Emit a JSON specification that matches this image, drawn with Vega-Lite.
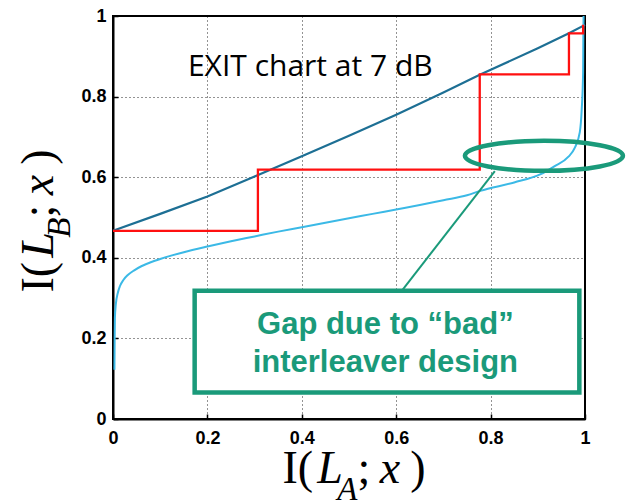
{
  "$schema": "https://vega.github.io/schema/vega-lite/v6.json",
  "width": 472,
  "height": 403,
  "autosize": {"type": "none"},
  "padding": {"left": 113, "top": 16, "right": 45, "bottom": 82},
  "background": "white",
  "config": {
    "view": {"stroke": "black", "strokeWidth": 2}
  },
  "datasets": {
    "upper": [
      {"x": 0.0, "y": 0.467},
      {"x": 0.1, "y": 0.509},
      {"x": 0.2, "y": 0.552},
      {"x": 0.3, "y": 0.602},
      {"x": 0.4, "y": 0.652},
      {"x": 0.5, "y": 0.703},
      {"x": 0.6, "y": 0.755},
      {"x": 0.7, "y": 0.81},
      {"x": 0.777, "y": 0.854},
      {"x": 0.9, "y": 0.92},
      {"x": 0.966, "y": 0.957},
      {"x": 1.0, "y": 0.978}
    ],
    "lower": [
      {"x": 0.003, "y": 0.122},
      {"x": 0.0035, "y": 0.2},
      {"x": 0.004, "y": 0.25},
      {"x": 0.006, "y": 0.285},
      {"x": 0.01, "y": 0.312},
      {"x": 0.0148, "y": 0.33},
      {"x": 0.022, "y": 0.345},
      {"x": 0.032, "y": 0.358},
      {"x": 0.045, "y": 0.369},
      {"x": 0.06, "y": 0.379},
      {"x": 0.08, "y": 0.389},
      {"x": 0.1, "y": 0.397},
      {"x": 0.125, "y": 0.406},
      {"x": 0.15, "y": 0.414},
      {"x": 0.2, "y": 0.428},
      {"x": 0.25, "y": 0.441},
      {"x": 0.3, "y": 0.453},
      {"x": 0.35, "y": 0.465},
      {"x": 0.4, "y": 0.476},
      {"x": 0.45, "y": 0.487},
      {"x": 0.5, "y": 0.498},
      {"x": 0.55, "y": 0.509},
      {"x": 0.6, "y": 0.52},
      {"x": 0.65, "y": 0.531},
      {"x": 0.7, "y": 0.543},
      {"x": 0.75, "y": 0.555},
      {"x": 0.778, "y": 0.566},
      {"x": 0.85, "y": 0.587},
      {"x": 0.905, "y": 0.607},
      {"x": 0.935, "y": 0.627},
      {"x": 0.965, "y": 0.651},
      {"x": 0.978, "y": 0.672},
      {"x": 0.989, "y": 0.712},
      {"x": 0.993, "y": 0.767},
      {"x": 0.996, "y": 0.86},
      {"x": 0.9965, "y": 0.95},
      {"x": 0.997, "y": 1.0}
    ],
    "stairs": [
      {"step": 0, "x": 0.0, "y": 0.467},
      {"step": 1, "x": 0.307, "y": 0.467},
      {"step": 2, "x": 0.307, "y": 0.619},
      {"step": 3, "x": 0.777, "y": 0.619},
      {"step": 4, "x": 0.777, "y": 0.855},
      {"step": 5, "x": 0.966, "y": 0.855},
      {"step": 6, "x": 0.966, "y": 0.957},
      {"step": 7, "x": 0.996, "y": 0.957},
      {"step": 8, "x": 0.996, "y": 0.978}
    ],
    "pointer": [
      {"x": 0.809, "y": 0.615},
      {"x": 0.613, "y": 0.32}
    ],
    "xtitle": [
      {"part": "I(", "x": 0.3915, "y": -0.1596, "kind": "upright"},
      {"part": "L", "x": 0.4597, "y": -0.1596, "kind": "italic"},
      {"part": "A", "x": 0.4964, "y": -0.201, "kind": "sub"},
      {"part": ";", "x": 0.5318, "y": -0.1596, "kind": "upright"},
      {"part": "x", "x": 0.5869, "y": -0.1596, "kind": "italic"},
      {"part": ")", "x": 0.6462, "y": -0.1596, "kind": "upright"}
    ],
    "ytitle": [
      {"part": "I(", "x": -0.1271, "y": 0.3519, "kind": "upright"},
      {"part": "L", "x": -0.1271, "y": 0.4318, "kind": "italic"},
      {"part": "B", "x": -0.0911, "y": 0.4747, "kind": "sub"},
      {"part": ";", "x": -0.1271, "y": 0.5161, "kind": "upright"},
      {"part": "x", "x": -0.1271, "y": 0.5806, "kind": "italic"},
      {"part": ")", "x": -0.1271, "y": 0.6501, "kind": "upright"}
    ]
  },
  "layer": [
    {
      "data": {"name": "upper"},
      "mark": {"type": "line", "color": "#1d6f94", "strokeWidth": 2.2},
      "encoding": {
        "x": {"field": "x", "type": "quantitative", "title": null,
              "scale": {"domain": [0, 1], "nice": false, "zero": false},
              "axis": {
                "values": [0, 0.2, 0.4, 0.6, 0.8, 1], "format": "~g",
                "domainColor": "black", "domainWidth": 2,
                "grid": true, "gridColor": "black", "gridDash": [1, 3], "gridWidth": 1, "gridOpacity": 0.85,
                "ticks": true, "tickSize": -5, "tickColor": "black", "tickWidth": 1.5,
                "labelFont": "Liberation Sans", "labelFontWeight": "bold", "labelFontSize": 18, "labelColor": "black",
                "labelFlush": false, "labelOverlap": false, "labelPadding": 15
              }},
        "y": {"field": "y", "type": "quantitative", "title": null,
              "scale": {"domain": [0, 1], "nice": false, "zero": false},
              "axis": {
                "values": [0, 0.2, 0.4, 0.6, 0.8, 1], "format": "~g",
                "domainColor": "black", "domainWidth": 2,
                "grid": true, "gridColor": "black", "gridDash": [1, 3], "gridWidth": 1, "gridOpacity": 0.85,
                "ticks": true, "tickSize": -5, "tickColor": "black", "tickWidth": 1.5,
                "labelFont": "Liberation Sans", "labelFontWeight": "bold", "labelFontSize": 18, "labelColor": "black",
                "labelFlush": false, "labelOverlap": false, "labelPadding": 12
              }}
      }
    },
    {
      "data": {"name": "lower"},
      "mark": {"type": "line", "color": "#3bb9e6", "strokeWidth": 2, "interpolate": "monotone"},
      "encoding": {
        "x": {"field": "x", "type": "quantitative", "title": null},
        "y": {"field": "y", "type": "quantitative", "title": null},
        "order": {"field": "y"}
      }
    },
    {
      "data": {"name": "stairs"},
      "mark": {"type": "line", "color": "#ff1010", "strokeWidth": 2.3},
      "encoding": {
        "x": {"field": "x", "type": "quantitative", "title": null},
        "y": {"field": "y", "type": "quantitative", "title": null},
        "order": {"field": "step"}
      }
    },
    {
      "data": {"name": "pointer"},
      "mark": {"type": "line", "color": "#1a9a7a", "strokeWidth": 2},
      "encoding": {
        "x": {"field": "x", "type": "quantitative", "title": null},
        "y": {"field": "y", "type": "quantitative", "title": null}
      }
    },
    {
      "data": {"values": [{}]},
      "mark": {
        "type": "point",
        "shape": "M -1 0 A 1 0.19 0 1 0 1 0 A 1 0.19 0 1 0 -1 0 Z",
        "size": 24964,
        "filled": false,
        "stroke": "#1a9a7a",
        "strokeWidth": 4.5,
        "opacity": 1
      },
      "encoding": {
        "x": {"datum": 0.913, "type": "quantitative"},
        "y": {"datum": 0.653, "type": "quantitative"}
      }
    },
    {
      "data": {"values": [{}]},
      "mark": {"type": "rect", "fill": "white", "stroke": "#1a9a7a", "strokeWidth": 4.5},
      "encoding": {
        "x": {"datum": 0.173, "type": "quantitative"},
        "x2": {"datum": 0.988},
        "y": {"datum": 0.066, "type": "quantitative"},
        "y2": {"datum": 0.318}
      }
    },
    {
      "data": {"values": [{}]},
      "mark": {
        "type": "text",
        "text": ["Gap due to \u201cbad\u201d", "interleaver design"],
        "font": "Liberation Sans",
        "fontWeight": "bold",
        "fontSize": 31,
        "lineHeight": 38,
        "color": "#1a9a7a",
        "align": "center",
        "baseline": "alphabetic"
      },
      "encoding": {
        "x": {"datum": 0.577, "type": "quantitative"},
        "y": {"datum": 0.211, "type": "quantitative"}
      }
    },
    {
      "data": {"values": [{}]},
      "mark": {
        "type": "text",
        "text": "EXIT chart at 7 dB",
        "font": "Open Sans",
        "fontSize": 30,
        "color": "black",
        "align": "center",
        "baseline": "alphabetic"
      },
      "encoding": {
        "x": {"datum": 0.418, "type": "quantitative"},
        "y": {"datum": 0.851, "type": "quantitative"}
      }
    },
    {
      "data": {"name": "xtitle"},
      "transform": [{"filter": "datum.kind === 'upright'"}],
      "mark": {"type": "text", "font": "Liberation Serif", "fontSize": 46, "align": "center", "baseline": "alphabetic", "color": "black"},
      "encoding": {
        "x": {"field": "x", "type": "quantitative", "title": null},
        "y": {"field": "y", "type": "quantitative", "title": null},
        "text": {"field": "part"}
      }
    },
    {
      "data": {"name": "xtitle"},
      "transform": [{"filter": "datum.kind === 'italic'"}],
      "mark": {"type": "text", "font": "Liberation Serif", "fontStyle": "italic", "fontSize": 46, "align": "center", "baseline": "alphabetic", "color": "black"},
      "encoding": {
        "x": {"field": "x", "type": "quantitative", "title": null},
        "y": {"field": "y", "type": "quantitative", "title": null},
        "text": {"field": "part"}
      }
    },
    {
      "data": {"name": "xtitle"},
      "transform": [{"filter": "datum.kind === 'sub'"}],
      "mark": {"type": "text", "font": "Liberation Serif", "fontStyle": "italic", "fontSize": 33, "align": "center", "baseline": "alphabetic", "color": "black"},
      "encoding": {
        "x": {"field": "x", "type": "quantitative", "title": null},
        "y": {"field": "y", "type": "quantitative", "title": null},
        "text": {"field": "part"}
      }
    },
    {
      "data": {"name": "ytitle"},
      "transform": [{"filter": "datum.kind === 'upright'"}],
      "mark": {"type": "text", "font": "Liberation Serif", "fontSize": 46, "angle": 270, "align": "center", "baseline": "alphabetic", "color": "black"},
      "encoding": {
        "x": {"field": "x", "type": "quantitative", "title": null},
        "y": {"field": "y", "type": "quantitative", "title": null},
        "text": {"field": "part"}
      }
    },
    {
      "data": {"name": "ytitle"},
      "transform": [{"filter": "datum.kind === 'italic'"}],
      "mark": {"type": "text", "font": "Liberation Serif", "fontStyle": "italic", "fontSize": 46, "angle": 270, "align": "center", "baseline": "alphabetic", "color": "black"},
      "encoding": {
        "x": {"field": "x", "type": "quantitative", "title": null},
        "y": {"field": "y", "type": "quantitative", "title": null},
        "text": {"field": "part"}
      }
    },
    {
      "data": {"name": "ytitle"},
      "transform": [{"filter": "datum.kind === 'sub'"}],
      "mark": {"type": "text", "font": "Liberation Serif", "fontStyle": "italic", "fontSize": 33, "angle": 270, "align": "center", "baseline": "alphabetic", "color": "black"},
      "encoding": {
        "x": {"field": "x", "type": "quantitative", "title": null},
        "y": {"field": "y", "type": "quantitative", "title": null},
        "text": {"field": "part"}
      }
    }
  ]
}
